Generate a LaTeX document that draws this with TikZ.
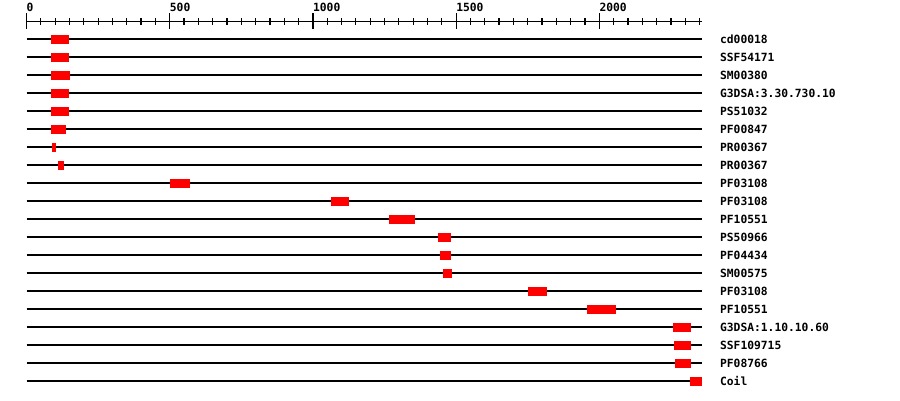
\documentclass[tikz,border=0pt]{standalone}
\usepackage{fontspec}
\setmonofont{DejaVu Sans Mono}
\tikzset{
  track/.style={line width=1.2pt},
  hit/.style={fill=red},
  txt/.style={font=\ttfamily\bfseries\fontsize{11.3}{13}\selectfont, inner sep=0pt},
}
\begin{document}
\begin{tikzpicture}[x=1pt,y=-1pt]
\useasboundingbox (0,0) rectangle (900,400);
\begin{scope}[xshift=26.5pt,x=0.2864pt]
% ruler
\draw[track] (0,21.5) -- (2357,21.5);
\foreach \t in {0,50,...,2350} \draw[track] (\t,18) -- (\t,25);
\foreach \t in {0,500,...,2000} {
  \draw[track] (\t,13) -- (\t,28.5);
  \node[txt, anchor=base west] (tick\t) at (\t,11.3) {\t};
}
% one track per hit
\foreach \name/\a/\b [count=\i] in {
    cd00018/85/148, SSF54171/85/148, SM00380/85/152,
    G3DSA:3.30.730.10/85/148, PS51032/85/148, PF00847/85/138,
    PR00367/89/103, PR00367/110/131, PF03108/501/571,
    PF03108/1063/1126, PF10551/1266/1356, PS50966/1437/1482,
    PF04434/1444/1482, SM00575/1455/1486, PF03108/1751/1818,
    PF10551/1957/2058, G3DSA:1.10.10.60/2258/2320, SSF109715/2261/2320,
    PF08766/2265/2320, Coil/2317/2357} {
  \pgfmathsetmacro\y{21+18*\i}
  \draw[track] (0,\y) -- (2357,\y);
  \fill[hit] (\a,\y-4.5) rectangle (\b,\y+4.5);
  \node[txt, anchor=west] (row\i) at (2421,\y) {\name};
}
\end{scope}
\end{tikzpicture}
\end{document}
